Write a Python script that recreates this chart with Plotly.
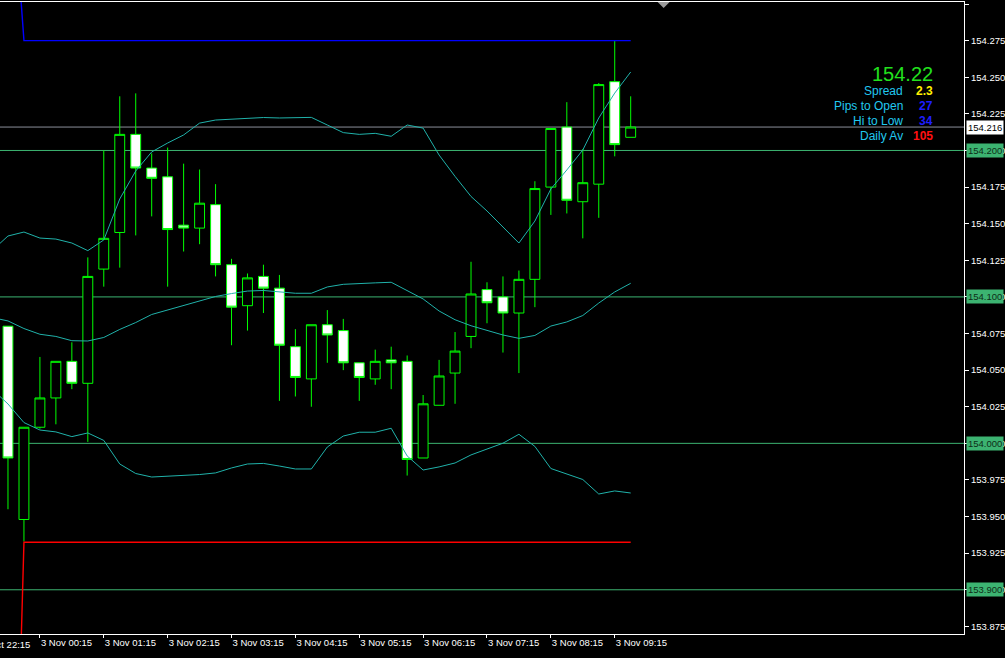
import plotly.graph_objects as go

# ---------------- data ----------------
opens = [154.080, 153.948, 154.011, 154.031, 154.056, 154.041, 154.119, 154.144, 154.211, 154.188,
         154.182, 154.149, 154.147, 154.163, 154.122, 154.094, 154.114, 154.106, 154.066, 154.044,
         154.081, 154.077, 154.055, 154.044, 154.057, 154.056, 153.990, 154.026, 154.048, 154.073,
         154.105, 154.100, 154.089, 154.112, 154.175, 154.216, 154.165, 154.177, 154.247, 154.209]
highs = [154.080, 154.011, 154.059, 154.056, 154.069, 154.127, 154.200, 154.237, 154.239, 154.198,
         154.202, 154.191, 154.187, 154.177, 154.126, 154.116, 154.122, 154.115, 154.078, 154.081,
         154.091, 154.085, 154.055, 154.064, 154.066, 154.060, 154.033, 154.057, 154.076, 154.124,
         154.110, 154.114, 154.118, 154.179, 154.215, 154.233, 154.201, 154.246, 154.275, 154.237]
lows = [153.955, 153.933, 154.010, 154.013, 154.037, 154.001, 154.107, 154.120, 154.142, 154.155,
        154.107, 154.131, 154.136, 154.114, 154.067, 154.077, 154.089, 154.029, 154.032, 154.025,
        154.055, 154.050, 154.029, 154.040, 154.037, 153.978, 153.990, 154.026, 154.027, 154.065,
        154.082, 154.062, 154.048, 154.093, 154.156, 154.157, 154.140, 154.154, 154.196, 154.209]
closes = [153.990, 154.011, 154.031, 154.056, 154.041, 154.114, 154.140, 154.211, 154.188, 154.181,
          154.146, 154.147, 154.164, 154.122, 154.093, 154.113, 154.106, 154.067, 154.045, 154.081,
          154.074, 154.055, 154.045, 154.056, 154.055, 153.989, 154.027, 154.046, 154.063, 154.102,
          154.096, 154.089, 154.112, 154.174, 154.215, 154.166, 154.178, 154.245, 154.204, 154.216]

# Bollinger bands, from the bar before the first visible one (bar -1) to the last bar
bb_upper = [154.1316, 154.1416, 154.1443, 154.1402, 154.1395, 154.1368, 154.1316, 154.1389, 154.1669,
            154.1860, 154.1990, 154.2051, 154.2106, 154.2187, 154.2208, 154.2215, 154.2222, 154.2225,
            154.2222, 154.2225, 154.2226, 154.2174, 154.2122, 154.2110, 154.2117, 154.2097, 154.2174,
            154.2153, 154.1969, 154.1823, 154.1686, 154.1587, 154.1479, 154.1368, 154.1518, 154.1737,
            154.1867, 154.2003, 154.2222, 154.2392, 154.2536]
bb_mid = [154.0859, 154.0836, 154.0784, 154.0745, 154.0730, 154.0701, 154.0699, 154.0723, 154.0778,
          154.0825, 154.0880, 154.0911, 154.0941, 154.0972, 154.1003, 154.1023, 154.1040, 154.1044,
          154.1034, 154.1025, 154.1025, 154.1068, 154.1086, 154.1093, 154.1096, 154.1100, 154.1044,
          154.0986, 154.0904, 154.0844, 154.0803, 154.0774, 154.0740, 154.0717, 154.0737, 154.0801,
          154.0829, 154.0873, 154.0958, 154.1034, 154.1093]
bb_lower = [154.0371, 154.0269, 154.0142, 154.0091, 154.0078, 154.0046, 154.0071, 154.0020, 153.9859,
            153.9794, 153.9770, 153.9774, 153.9781, 153.9787, 153.9798, 153.9832, 153.9859, 153.9863,
            153.9845, 153.9825, 153.9825, 153.9975, 154.0050, 154.0076, 154.0076, 154.0103, 153.9914,
            153.9818, 153.9839, 153.9866, 153.9921, 153.9962, 154.0001, 154.0062, 153.9979, 153.9828,
            153.9791, 153.9753, 153.9654, 153.9675, 153.9661]

day_high = 154.275
day_low = 153.9325
bid = 154.216
level_lines = [154.200, 154.100, 154.000, 153.900]

tick_bars = [2, 6, 10, 14, 18, 22, 26, 30, 34, 38]
tick_labels = ["3 Nov 00:15", "3 Nov 01:15", "3 Nov 02:15", "3 Nov 03:15", "3 Nov 04:15",
               "3 Nov 05:15", "3 Nov 06:15", "3 Nov 07:15", "3 Nov 08:15", "3 Nov 09:15"]
first_label = "31 Oct 22:15"

big_price = "154.22"
info_labels = ["Spread", "Pips to Open", "Hi to Low", "Daily Av"]
info_values = ["2.3", "27", "34", "105"]
info_colors = ["#FFF000", "#1E1EFF", "#1E1EFF", "#FF1010"]

# ---------------- figure ----------------
W, H = 1005, 658
ML, MR, MT, MB = 0, 39, 2, 24
PW, PH = W - ML - MR, H - MT - MB
x_range = [-0.5, 59.875]
y_range = [153.8698, 154.3014]

def px_x(px):
    return px / PW

def px_y(py):
    return (PH + MT - py) / PH

n = len(opens)
bars = list(range(n))
band_x = list(range(-1, n))

fig = go.Figure()

for band in (bb_upper, bb_mid, bb_lower):
    fig.add_trace(go.Scatter(x=band_x, y=band, mode="lines",
                             line=dict(color="#20B2AA", width=1), hoverinfo="skip"))

# day high / low lines
fig.add_trace(go.Scatter(x=[0.8, 1.0, n - 1], y=[day_high + 0.03, day_high, day_high], mode="lines",
                         line=dict(color="#0000FF", width=1.4), hoverinfo="skip"))
fig.add_trace(go.Scatter(x=[0.82, 1.0, n - 1], y=[day_low - 0.07, day_low, day_low], mode="lines",
                         line=dict(color="#FF0000", width=1.4), hoverinfo="skip"))

fig.add_trace(go.Candlestick(
    x=bars, open=opens, high=highs, low=lows, close=closes,
    increasing=dict(line=dict(color="#00FF00", width=1), fillcolor="#000000"),
    decreasing=dict(line=dict(color="#00FF00", width=1), fillcolor="#FFFFFF"),
    whiskerwidth=0, hoverinfo="skip"))

shapes = []
for lv in level_lines:
    shapes.append(dict(type="line", xref="paper", x0=0, x1=1, yref="y", y0=lv, y1=lv,
                       line=dict(color="#3CB371", width=1), layer="below"))
shapes.append(dict(type="line", xref="paper", x0=0, x1=1, yref="y", y0=bid, y1=bid,
                   line=dict(color="#8A8F99", width=1), layer="below"))
# chart-shift marker at the top
shapes.append(dict(type="path", xref="paper", yref="paper",
                   path=f"M {px_x(659)} {px_y(2)} L {px_x(671)} {px_y(2)} L {px_x(665)} {px_y(8)} Z",
                   fillcolor="#9A9A9A", line=dict(width=0)))

annotations = []
for lv in level_lines:
    annotations.append(dict(xref="paper", x=1, xanchor="left", xshift=2, yref="y", y=lv,
                            yanchor="middle", text=f"{lv:.3f}", showarrow=False,
                            bgcolor="#3CB371", borderpad=1,
                            font=dict(family="Liberation Sans", size=9.5, color="#0E2E18")))
annotations.append(dict(xref="paper", x=1, xanchor="left", xshift=2, yref="y", y=bid,
                        yanchor="middle", text=f"{bid:.3f}", showarrow=False,
                        bgcolor="#FFFFFF", borderpad=1,
                        font=dict(family="Liberation Sans", size=9.5, color="#000000")))
# partially visible first time label
annotations.append(dict(xref="paper", x=px_x(-26), xanchor="left", yref="paper", y=px_y(644),
                        yanchor="middle", text=first_label, showarrow=False,
                        font=dict(family="Liberation Sans", size=9.5, color="#FFFFFF")))

# info panel
annotations.append(dict(xref="paper", x=px_x(937), xanchor="right", yref="paper", y=px_y(74),
                        yanchor="middle", text=big_price, showarrow=False,
                        font=dict(family="Liberation Sans", size=20, color="#22E01E")))
for k, (lab, val, col) in enumerate(zip(info_labels, info_values, info_colors)):
    yy = px_y(91 + 15 * k)
    annotations.append(dict(xref="paper", x=px_x(907), xanchor="right", yref="paper", y=yy,
                            yanchor="middle", text=lab, showarrow=False,
                            font=dict(family="Liberation Sans", size=12, color="#20C8F0")))
    annotations.append(dict(xref="paper", x=px_x(937), xanchor="right", yref="paper", y=yy,
                            yanchor="middle", text=f"<b>{val}</b>", showarrow=False,
                            font=dict(family="Liberation Sans", size=12, color=col)))

fig.update_layout(
    width=W, height=H,
    margin=dict(l=ML, r=MR, t=MT, b=MB, pad=0),
    paper_bgcolor="#000000", plot_bgcolor="#000000",
    showlegend=False,
    font=dict(family="Liberation Sans", size=9.5, color="#FFFFFF"),
    boxgap=0.38, boxgroupgap=0,
    shapes=shapes, annotations=annotations,
    xaxis=dict(range=x_range, showgrid=False, zeroline=False,
               showline=True, linecolor="#FFFFFF", linewidth=1, mirror=True,
               ticks="outside", ticklen=3, tickcolor="#FFFFFF", tickwidth=1,
               tickvals=tick_bars, ticktext=tick_labels,
               ticklabelposition="outside right",
               tickfont=dict(family="Liberation Sans", size=9.5, color="#FFFFFF"),
               rangeslider=dict(visible=False), fixedrange=True),
    yaxis=dict(range=y_range, side="right", showgrid=False, zeroline=False,
               showline=True, linecolor="#FFFFFF", linewidth=1,
               ticks="outside", ticklen=4, tickcolor="#FFFFFF",
               tick0=153.875, dtick=0.025, tickformat=".3f",
               tickfont=dict(family="Liberation Sans", size=9.5, color="#FFFFFF"),
               fixedrange=True),
)

fig.write_html("out.html", config={"displayModeBar": False},
               post_script="document.body.style.margin='0px';document.body.style.background='#000';")
